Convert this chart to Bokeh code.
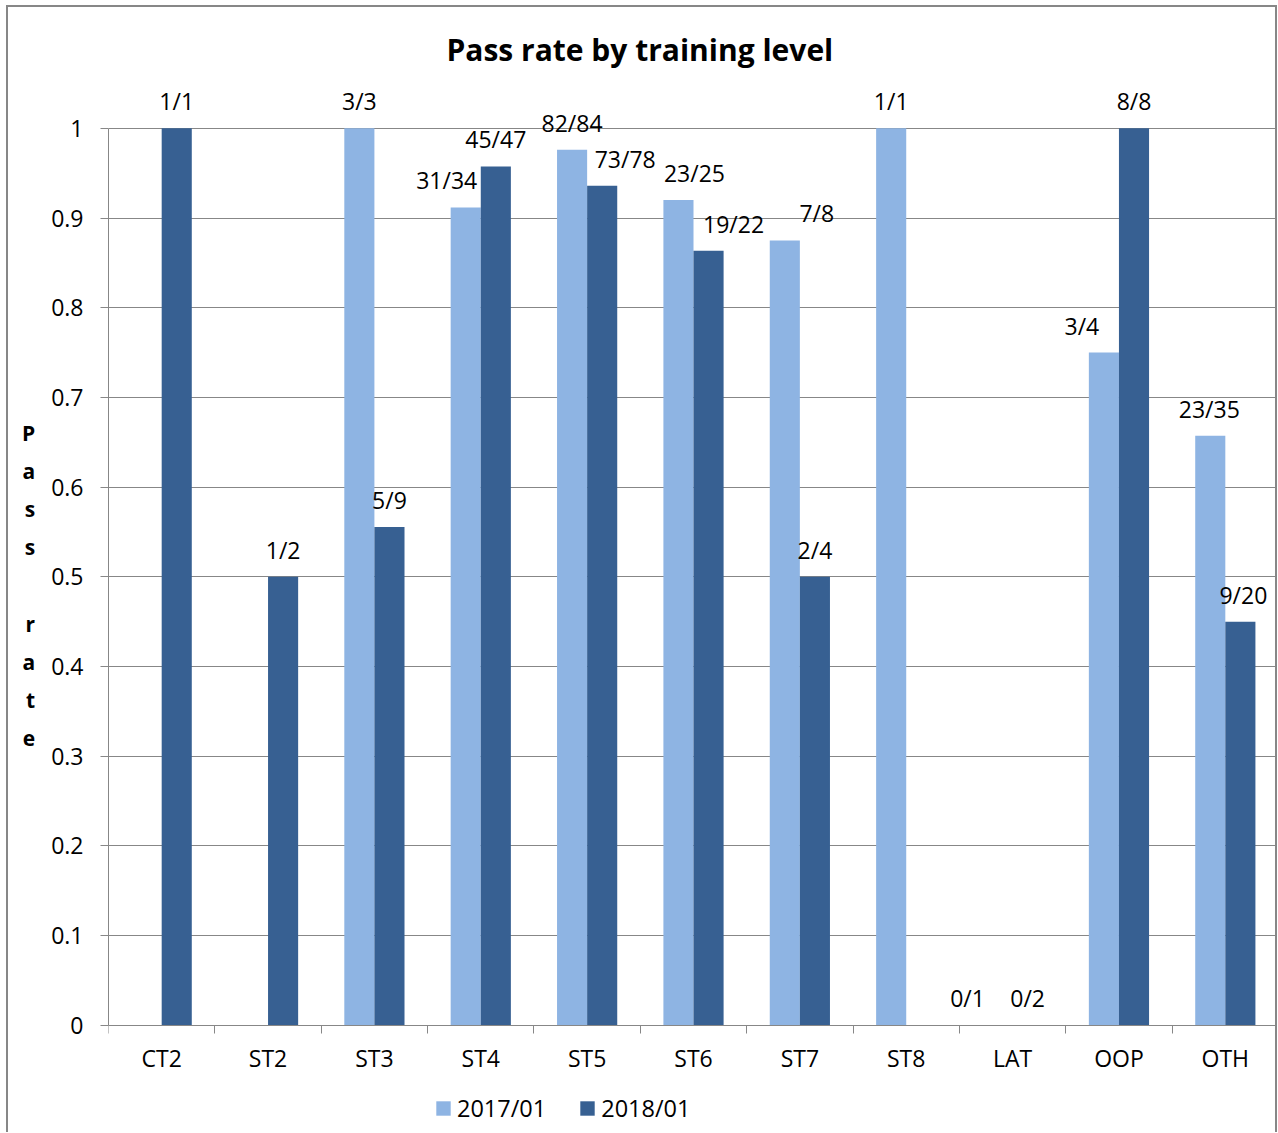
from bokeh.plotting import figure
from bokeh.models import (ColumnDataSource, Range1d, FixedTicker, NumeralTickFormatter,
                          Legend, LegendItem)
from bokeh.core.properties import value
from bokeh.embed import file_html
from bokeh.resources import INLINE

# ---------------- data ----------------
title_text = "Pass rate by training level"
y_title = "Pass rate"
categories = ["CT2", "ST2", "ST3", "ST4", "ST5", "ST6", "ST7", "ST8", "LAT", "OOP", "OTH"]
series_names = ["2017/01", "2018/01"]
passed_2017 = [None, None, 3, 31, 82, 23, 7, 1, 0, 3, 23]
taken_2017 = [None, None, 3, 34, 84, 25, 8, 1, 1, 4, 35]
passed_2018 = [1, 1, 5, 45, 73, 19, 2, None, 0, 8, 9]
taken_2018 = [1, 2, 9, 47, 78, 22, 4, None, 2, 8, 20]
y_ticks = [0, 0.1, 0.2, 0.3, 0.4, 0.5, 0.6, 0.7, 0.8, 0.9, 1.0]

# ---------------- style ----------------
FONT = "Open Sans"
GRAY = "#878787"
colors = ["#8EB4E3", "#376092"]
bar_w = 0.283
label_dx = [
    [0, 0, 0, -19, 0, 16, 32, 0, -30, -22, -1],   # pixel nudges of 2017 labels
    [0, 0, 0, 0, 23, 25, 0, 0, 0, 0, 3],          # pixel nudges of 2018 labels
]

# frame runs to the bottom of the canvas so that the legend (drawn in the frame) is visible
p = figure(width=1271, height=1127,
           x_range=Range1d(0, len(categories)), y_range=Range1d(-0.1218, 1.06),
           output_backend="svg", toolbar_location=None,
           min_border_left=100, min_border_right=1, min_border_top=67, min_border_bottom=0,
           outline_line_color=None, background_fill_color="white", border_fill_color="white",
           styles={"margin-left": "6px", "margin-top": "5px",
                   "border-left": f"2px solid {GRAY}", "border-top": f"2px solid {GRAY}",
                   "border-right": f"2px solid {GRAY}"})

centers = [i + 0.5 for i in range(len(categories))]

renderers = []
for s, (passed, taken) in enumerate([(passed_2017, taken_2017), (passed_2018, taken_2018)]):
    offset = (s - 0.5) * bar_w
    xs, tops, texts, dxs = [], [], [], []
    for i, (n, d) in enumerate(zip(passed, taken)):
        if n is None or d is None:
            continue
        xs.append(centers[i] + offset)
        tops.append(n / d)
        texts.append(f"{n}/{d}")
        dxs.append(label_dx[s][i])
    src = ColumnDataSource(dict(x=xs, top=tops, text=texts, dx=dxs))
    r = p.vbar(x="x", top="top", bottom=0, width=bar_w, source=src,
               fill_color=colors[s], line_color=None)
    renderers.append(r)
    p.text(x="x", y="top", text="text", source=src, x_offset="dx", y_offset=-27,
           text_align="center", text_baseline="middle",
           text_font=value(FONT), text_font_size="23px", text_color="black")

# ---------------- title ----------------
p.title.text = title_text
p.title.align = "left"
p.title.offset = 338
p.title.standoff = 10
p.title.text_font = FONT
p.title.text_font_size = "30px"
p.title.text_font_style = "bold"
p.title.text_color = "black"

# ---------------- axes ----------------
yax = p.yaxis[0]
yax.ticker = FixedTicker(ticks=y_ticks)
yax.formatter = NumeralTickFormatter(format="0.[0]")
yax.bounds = (0, 1)
yax.axis_line_color = GRAY
yax.major_tick_line_color = GRAY
yax.major_tick_out = 8
yax.major_tick_in = 0
yax.minor_tick_line_color = None
yax.major_label_standoff = 17
yax.major_label_text_font = FONT
yax.major_label_text_font_size = "23px"
yax.major_label_text_color = "black"
yax.axis_label = "\n".join(y_title) + "\n"
yax.axis_label_orientation = "horizontal"
yax.axis_label_standoff = 13
yax.axis_label_text_font = FONT
yax.axis_label_text_font_size = "21px"
yax.axis_label_text_font_style = "bold"
yax.axis_label_text_line_height = 1.365
yax.axis_label_text_color = "black"

xax = p.xaxis[0]
xax.fixed_location = 0
xax.ticker = FixedTicker(ticks=centers, minor_ticks=list(range(len(categories) + 1)))
xax.major_label_overrides = {c: cat for c, cat in zip(centers, categories)}
xax.axis_line_color = GRAY
xax.major_tick_line_color = None
xax.minor_tick_line_color = GRAY
xax.minor_tick_out = 8
xax.minor_tick_in = 0
xax.major_label_standoff = 9
xax.major_label_text_font = FONT
xax.major_label_text_font_size = "23px"
xax.major_label_text_color = "black"

p.xgrid.grid_line_color = None
p.ygrid.ticker = FixedTicker(ticks=y_ticks)
p.ygrid.grid_line_color = GRAY
p.ygrid.grid_line_width = 1.2

# ---------------- legend ----------------
legend = Legend(items=[LegendItem(label=n, renderers=[r]) for n, r in zip(series_names, renderers)],
                orientation="horizontal", location=(326, 10),
                glyph_width=18, glyph_height=18, label_standoff=5, spacing=32,
                padding=0, margin=0, border_line_color=None, background_fill_alpha=0,
                label_text_font=FONT, label_text_font_size="23.5px", label_text_color="black")
p.add_layout(legend, "center")

open("out.html", "w").write(file_html(p, INLINE))
